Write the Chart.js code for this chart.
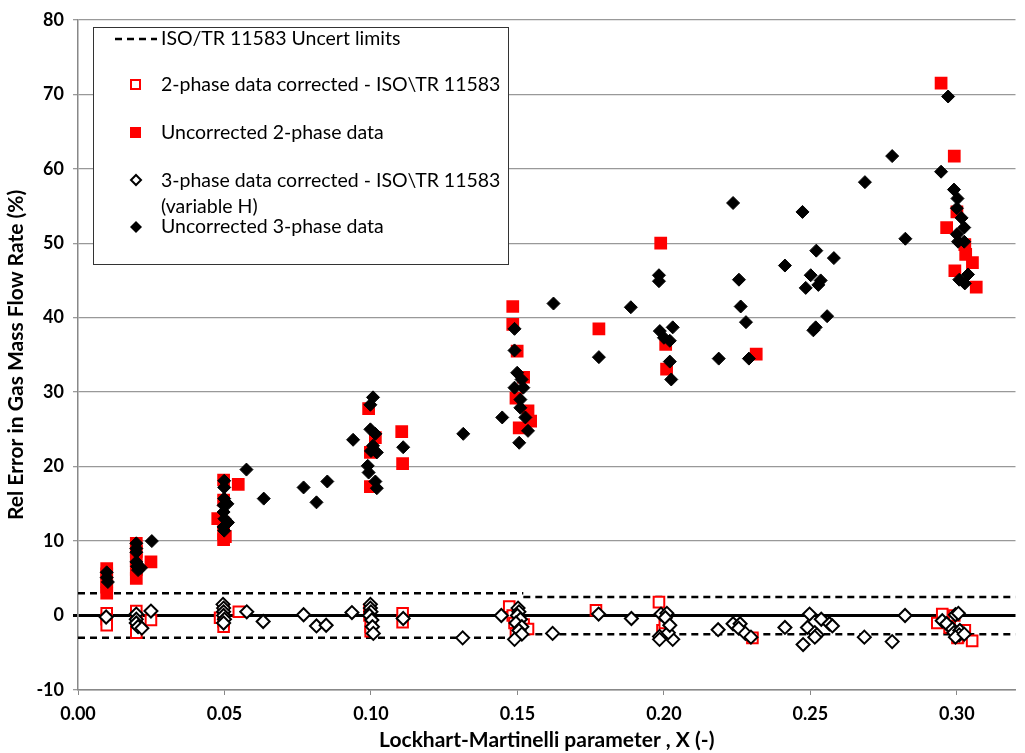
<!DOCTYPE html>
<html><head><meta charset="utf-8">
<script src="https://cdn.jsdelivr.net/npm/chart.js@4/dist/chart.umd.min.js"></script>
<style>html,body{margin:0;padding:0;background:#fff}#wrap{width:1025px;height:753px;position:relative}</style>
</head><body><div id="wrap"><canvas id="c" width="1025" height="753"></canvas></div>
<script>
// ---- data ----
const xTickValues = [0, 0.05, 0.10, 0.15, 0.20, 0.25, 0.30];
const yTickValues = [-10, 0, 10, 20, 30, 40, 50, 60, 70, 80];

const limitUpperX = [0, 0.152, 0.152, 0.152, 0.32];
const limitUpperY = [3, 3, null, 2.5, 2.5];
const limitLowerX = [0, 0.152, 0.152, 0.152, 0.32];
const limitLowerY = [-3, -3, null, -2.5, -2.5];

const corr2X = [0.0098,0.0098,0.0098,0.0199,0.0199,0.0199,0.0199,0.0249,0.0485,0.0497,0.0497,0.0497,0.0549,0.0995,0.0995,0.0999,0.0999,0.1108,0.1108,0.1472,0.1484,0.1490,0.1495,0.1521,0.1536,0.1768,0.1983,0.1995,0.2003,0.2302,0.2933,0.2950,0.2991,0.2975,0.3004,0.3027,0.3052,0.3002];
const corr2Y = [0.3,-0.5,-1.3,0.6,-0.4,-1.4,-2.3,-0.6,-0.3,0.5,-0.8,-1.5,0.5,0.8,0.0,-1.5,-2.1,0.3,-0.9,1.2,0.0,-1.0,-2.4,-1.2,-1.8,0.7,1.8,-2.0,-1.0,-3.0,-1.0,0.2,0.0,-1.6,-2.9,-2.0,-3.4,-3.0];

const unc2X = [0.0098,0.0098,0.0098,0.0098,0.0098,0.0199,0.0199,0.0199,0.0199,0.0199,0.0249,0.0477,0.0497,0.0497,0.0497,0.0497,0.0497,0.0503,0.0547,0.0992,0.1015,0.0998,0.0998,0.1105,0.1108,0.1484,0.1484,0.1499,0.1521,0.1495,0.1536,0.1545,0.1506,0.1778,0.1989,0.2006,0.2009,0.2315,0.2946,0.2991,0.3000,0.2965,0.3027,0.3030,0.3053,0.2993,0.3066];
const unc2Y = [6.3,5.6,4.6,3.8,3.0,9.7,8.6,7.5,6.2,5.0,7.2,13.0,18.2,15.5,12.4,11.0,10.2,10.6,17.6,27.8,23.9,21.9,17.3,24.7,20.4,41.5,39.1,35.5,32.0,29.2,27.5,26.1,25.2,38.5,50.0,36.4,33.1,35.1,71.5,61.7,54.2,52.1,49.8,48.5,47.4,46.3,44.1];

const corr3X = [0.0096,0.0199,0.0199,0.0199,0.0205,0.0218,0.0249,0.0495,0.0497,0.0497,0.0497,0.0500,0.0497,0.0576,0.0632,0.0770,0.0814,0.0847,0.0935,0.0998,0.0998,0.1000,0.0995,0.1003,0.1005,0.1008,0.1110,0.1313,0.1445,0.1502,0.1505,0.1500,0.1510,0.1495,0.1515,0.1505,0.1515,0.1490,0.1620,0.1777,0.1889,0.1985,0.1985,0.1990,0.2010,0.2005,0.2030,0.2015,0.2020,0.2185,0.2236,0.2260,0.2255,0.2278,0.2297,0.2413,0.2475,0.2490,0.2497,0.2515,0.2522,0.2515,0.2537,0.2565,0.2575,0.2684,0.2779,0.2823,0.2950,0.2965,0.2985,0.2990,0.2995,0.3005,0.3010,0.3008,0.2995,0.3025];
const corr3Y = [-0.2,0.2,-0.5,-1.0,-1.5,-1.7,0.6,1.5,1.0,0.5,0.0,-0.5,-1.0,0.5,-0.8,0.1,-1.4,-1.3,0.4,1.5,1.0,0.5,0.0,-0.6,-1.5,-2.4,-0.4,-3.0,0.0,1.0,0.5,0.0,-0.5,-1.0,-1.5,-2.0,-2.5,-3.2,-2.4,0.2,-0.4,-2.8,-3.2,0.2,0.3,-0.3,-3.2,-2.3,-1.3,-1.9,-1.1,-1.1,-1.7,-2.4,-2.9,-1.6,-3.9,-1.6,0.2,-2.3,-2.6,-2.9,-0.5,-1.1,-1.4,-2.9,-3.5,0.0,-0.7,-1.1,-1.8,-2.3,0.1,0.3,-2.0,-2.6,-2.9,-2.5];

const unc3X = [0.0098,0.0098,0.0102,0.0199,0.0199,0.0199,0.0199,0.0201,0.0205,0.0215,0.0252,0.0499,0.0499,0.0499,0.0497,0.0510,0.0497,0.0500,0.0512,0.0497,0.0499,0.0575,0.0634,0.0770,0.0814,0.0851,0.0939,0.1007,0.0998,0.0998,0.1015,0.1007,0.1000,0.1020,0.0989,0.0992,0.1015,0.1020,0.1110,0.1315,0.1448,0.1490,0.1490,0.1499,0.1514,0.1490,0.1520,0.1510,0.1510,0.1527,0.1536,0.1506,0.1623,0.1778,0.1887,0.1983,0.1983,0.1986,0.2030,0.2020,0.2000,0.2020,0.2025,0.2187,0.2290,0.2256,0.2262,0.2280,0.2236,0.2413,0.2473,0.2484,0.2501,0.2520,0.2527,0.2535,0.2518,0.2510,0.2557,0.2580,0.2686,0.2779,0.2824,0.2946,0.2970,0.2990,0.3002,0.3000,0.3016,0.3025,0.3000,0.3004,0.3025,0.3038,0.3008,0.3027];
const unc3Y = [5.8,5.1,4.5,9.7,9.0,8.5,7.2,6.6,6.1,6.4,10.0,18.1,17.2,15.7,14.8,15.0,13.9,13.0,12.5,11.9,11.4,19.6,15.7,17.2,15.2,18.0,23.6,29.3,28.3,25.0,24.4,22.8,22.1,21.9,20.1,19.2,18.0,17.1,22.6,24.4,26.6,38.5,35.6,32.6,31.7,30.6,30.6,29.0,27.9,26.6,24.8,23.2,41.9,34.7,41.4,45.7,44.9,38.2,38.7,36.9,37.3,34.1,31.7,34.5,34.5,45.1,41.5,39.4,55.4,47.0,54.2,44.0,45.7,49.0,44.4,45.0,38.7,38.3,40.2,48.0,58.2,61.7,50.6,59.6,69.7,57.2,56.0,54.7,53.4,52.1,51.2,50.2,50.2,45.8,45.1,44.6];

const legendLabels = ["ISO/TR 11583 Uncert limits","2-phase data corrected - ISO\\TR 11583","Uncorrected 2-phase data","3-phase data corrected - ISO\\TR 11583","(variable H)","Uncorrected 3-phase data"];
const xTitle = "Lockhart-Martinelli parameter , X (-)";
const yTitle = "Rel Error in Gas Mass Flow Rate (%)";

const pts = (xs, ys) => xs.map((x, i) => ({x, y: ys[i]}));

const FONT = "Lato, 'Open Sans', sans-serif";

const legendPlugin = {
  id: 'boxLegend',
  afterDraw(chart) {
    const ctx = chart.ctx;
    ctx.save();
    const L = 93, T = 27, R = 508, B = 264;
    ctx.fillStyle = '#fff';
    ctx.fillRect(L, T, R - L, B - T);
    ctx.strokeStyle = '#333';
    ctx.lineWidth = 1;
    ctx.strokeRect(L + 0.5, T + 0.5, R - L, B - T);
    ctx.font = "19.5px " + FONT;
    ctx.fillStyle = '#000';
    ctx.textBaseline = 'middle';
    ctx.textAlign = 'left';
    const tx = 161;
    // dashed line
    ctx.strokeStyle = '#000'; ctx.lineWidth = 2.5; ctx.setLineDash([7, 5]);
    ctx.beginPath(); ctx.moveTo(115, 39); ctx.lineTo(157, 39); ctx.stroke();
    ctx.setLineDash([]);
    ctx.fillText(legendLabels[0], tx, 39);
    // open red square
    ctx.strokeStyle = '#ff0000'; ctx.lineWidth = 2;
    ctx.fillStyle = '#fff';
    ctx.fillRect(131, 80, 9, 9); ctx.strokeRect(131, 80, 9, 9);
    ctx.fillStyle = '#000';
    ctx.fillText(legendLabels[1], tx, 85);
    // filled red square
    ctx.fillStyle = '#ff0000';
    ctx.fillRect(130, 127, 11, 11);
    ctx.fillStyle = '#000';
    ctx.fillText(legendLabels[2], tx, 133);
    // open diamond
    ctx.strokeStyle = '#000'; ctx.lineWidth = 2;
    ctx.beginPath(); ctx.moveTo(136, 175); ctx.lineTo(141, 180); ctx.lineTo(136, 185); ctx.lineTo(131, 180); ctx.closePath(); ctx.stroke();
    ctx.fillText(legendLabels[3], tx, 181);
    ctx.fillText(legendLabels[4], tx, 207);
    // filled diamond
    ctx.beginPath(); ctx.moveTo(136, 221); ctx.lineTo(142, 227); ctx.lineTo(136, 233); ctx.lineTo(130, 227); ctx.closePath(); ctx.fill();
    ctx.fillText(legendLabels[5], tx, 227);
    ctx.restore();
  }
};

new Chart(document.getElementById('c'), {
  type: 'scatter',
  data: {
    datasets: [
      { label: 'Uncorrected 3-phase data', data: pts(unc3X, unc3Y), pointStyle: 'rectRot', pointRadius: 6.5, backgroundColor: '#000', borderColor: '#000', borderWidth: 1 },
      { label: '3-phase data corrected - ISO\\TR 11583 (variable H)', data: pts(corr3X, corr3Y), pointStyle: 'rectRot', pointRadius: 6.5, backgroundColor: '#fff', borderColor: '#000', borderWidth: 2 },
      { label: 'Uncorrected 2-phase data', data: pts(unc2X, unc2Y), pointStyle: 'rect', pointRadius: 9, backgroundColor: '#ff0000', borderColor: '#ff0000', borderWidth: 0 },
      { label: '2-phase data corrected - ISO\\TR 11583', data: pts(corr2X, corr2Y), pointStyle: 'rect', pointRadius: 7.5, backgroundColor: '#fff', borderColor: '#ff0000', borderWidth: 2 },
      { label: 'ISO/TR 11583 Uncert limits', data: pts(limitUpperX, limitUpperY), showLine: true, spanGaps: false, pointRadius: 0, borderColor: '#000', borderWidth: 2.5, borderDash: [7, 5], fill: false },
      { label: 'ISO/TR 11583 Uncert limits (lower)', data: pts(limitLowerX, limitLowerY), showLine: true, spanGaps: false, pointRadius: 0, borderColor: '#000', borderWidth: 2.5, borderDash: [7, 5], fill: false }
    ]
  },
  options: {
    responsive: false,
    animation: false,
    devicePixelRatio: 1,
    layout: { padding: { top: 16, right: 0, left: 0, bottom: 0 } },
    plugins: { legend: { display: false }, tooltip: { enabled: false } },
    scales: {
      x: {
        type: 'linear', min: 0, max: 0.32,
        afterBuildTicks: s => { s.ticks = xTickValues.map(v => ({ value: v })); },
        afterFit: s => { s.height = 63; },
        ticks: { callback: v => v.toFixed(2), color: '#000', font: { family: FONT, size: 18, weight: 'bold' }, padding: 8, maxRotation: 0, autoSkip: false },
        grid: { drawOnChartArea: false, drawTicks: true, tickLength: 5, color: '#888' },
        border: { color: '#888', width: 1.5 },
        title: { display: true, text: xTitle, color: '#000', font: { family: FONT, size: 21, weight: 'bold' }, padding: { top: 0, bottom: 0 } }
      },
      y: {
        type: 'linear', min: -10, max: 80,
        afterBuildTicks: s => { s.ticks = yTickValues.map(v => ({ value: v })); },
        afterFit: s => { s.width = 78; },
        ticks: { color: '#000', font: { family: FONT, size: 18, weight: 'bold' }, padding: 9 },
        grid: {
          color: c => (c.tick && c.tick.value === 0) ? '#000' : '#999',
          lineWidth: c => (c.tick && c.tick.value === 0) ? 3 : 1.3,
          tickLength: 5
        },
        border: { color: '#888', width: 1.5 },
        title: { display: true, text: yTitle, color: '#000', font: { family: FONT, size: 21, weight: 'bold' }, padding: { top: 4, bottom: 0 } }
      }
    }
  },
  plugins: [legendPlugin]
});
</script>
</body></html>
